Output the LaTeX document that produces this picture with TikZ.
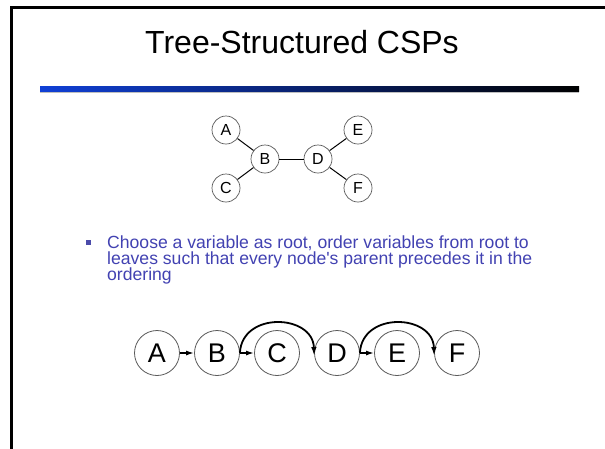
\documentclass[tikz,border=0pt]{standalone}
\usepackage{fontspec}
\setmainfont{Liberation Sans}
\usetikzlibrary{arrows.meta}
\definecolor{bodyblue}{RGB}{66,66,178}
\definecolor{barblue}{RGB}{16,64,214}
\definecolor{ringgray}{RGB}{90,90,90}
\tikzset{
  small var/.style={circle, draw=ringgray, line width=0.7pt, minimum size=28pt, inner sep=0pt,
    font=\fontsize{16}{16}\selectfont},
  big var/.style={circle, draw=ringgray, line width=0.8pt, minimum size=45pt, inner sep=0pt,
    font=\fontsize{27}{27}\selectfont},
  tree edge/.style={line width=1pt, black},
  order arrow/.style={line width=1.5pt, -{Latex[length=8pt,width=5pt]}},
  parent arc/.style={line width=1.8pt, -{Latex[length=9pt,width=5.5pt]}},
  body line/.style={anchor=base west, inner sep=0pt, text=bodyblue,
    font=\fontsize{17.6}{17.6}\selectfont}
}
\begin{document}
\begin{tikzpicture}[x=1pt,y=-1pt]
  \useasboundingbox (0,0) rectangle (605,448);
  \fill[white] (0,0) rectangle (605,448);

  % slide frame
  \draw[line width=2.8pt, line cap=rect] (605,7.2) -- (11.8,7.2) -- (11.8,448);

  % title and rule
  \node[anchor=base, inner sep=0pt, font=\fontsize{32}{32}\selectfont] (title) at (302,53) {Tree-Structured CSPs};
  \fill[black!25] (40,91) rectangle (579,92.5);
  \shade[left color=barblue, right color=black] (40,86) rectangle (579,91);

  % constraint tree
  \node[small var] (ta) at (226,130) {A};
  \node[small var] (tb) at (265,159) {B};
  \node[small var] (tc) at (226,188) {C};
  \node[small var] (td) at (318,159) {D};
  \node[small var] (te) at (358,130) {E};
  \node[small var] (tf) at (358,188) {F};
  \draw[tree edge] (ta) -- (tb);
  \draw[tree edge] (tc) -- (tb);
  \draw[tree edge] (tb) -- (td);
  \draw[tree edge] (td) -- (te);
  \draw[tree edge] (td) -- (tf);

  % bullet text
  \fill[bodyblue!85!gray] (85.5,239.5) rectangle (90.5,244.5);
  \node[body line] (l1) at (107,248.5) {Choose a variable as root, order variables from root to};
  \node[body line] (l2) at (107,264.5) {leaves such that every node\textquotesingle s parent precedes it in the};
  \node[body line] (l3) at (107,280.5) {ordering};

  % linear ordering
  \node[big var] (oa) at (157,353) {A};
  \node[big var] (ob) at (217,353) {B};
  \node[big var] (oc) at (277,353) {C};
  \node[big var] (od) at (337,353) {D};
  \node[big var] (oe) at (397,353) {E};
  \node[big var] (of) at (457,353) {F};
  \draw[order arrow] (oa) -- (ob);
  \draw[order arrow] (ob) -- (oc);
  \draw[order arrow] (od) -- (oe);
  \draw[parent arc] (ob.east) .. controls +(2,-42) and +(-1,-42) .. ([yshift=-3pt]od.west);
  \draw[parent arc] (od.east) .. controls +(2,-42) and +(-1,-42) .. ([yshift=-3pt]of.west);
\end{tikzpicture}
\end{document}
